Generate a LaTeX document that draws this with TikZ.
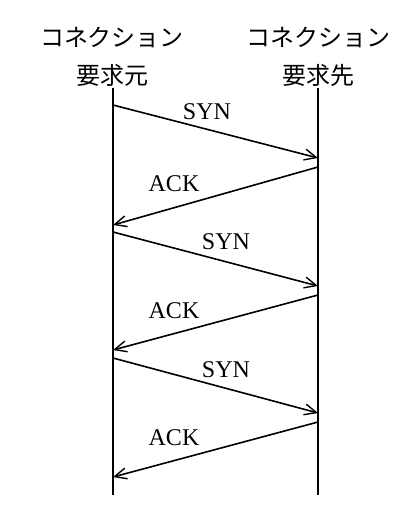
\documentclass[tikz,border=0pt]{standalone}
\usepackage{fontspec}
\setmainfont{Liberation Serif}
\newfontfamily\jafont{Noto Sans CJK JP}
\usetikzlibrary{arrows.meta}

\begin{document}
\begin{tikzpicture}[x=1pt,y=-1pt,
  every node/.style={inner sep=0pt, outer sep=0pt},
  head/.style={font=\jafont\fontsize{24}{28}\selectfont},
  lbl/.style={font=\fontsize{24}{28}\selectfont},
  life/.style={line width=1.6pt},
  msg/.style={line width=1.6pt, -{Straight Barb[length=12pt,width=11pt,line width=1.4pt]}}]
\useasboundingbox (0,0) rectangle (405,512);

\node[head] (srchead) at (112,37) {コネクション};
\node[head] (srcrole) at (112,75) {要求元};
\node[head] (dsthead) at (318,37) {コネクション};
\node[head] (dstrole) at (318,75) {要求先};

\coordinate (srctop) at (113,88);
\coordinate (srcbot) at (113,495);
\coordinate (dsttop) at (318,88);
\coordinate (dstbot) at (318,495);
\draw[life] (srctop) -- (srcbot);
\draw[life] (dsttop) -- (dstbot);

\coordinate (s1) at (113,105);
\coordinate (d1) at (318,158);
\coordinate (d2) at (318,167);
\coordinate (s2) at (113,225);
\coordinate (s3) at (113,232);
\coordinate (d3) at (318,286);
\coordinate (d4) at (318,295);
\coordinate (s4) at (113,350);
\coordinate (s5) at (113,358);
\coordinate (d5) at (318,413);
\coordinate (d6) at (318,422);
\coordinate (s6) at (113,477);

\draw[msg] (s1) -- (d1);
\draw[msg] (d2) -- (s2);
\draw[msg] (s3) -- (d3);
\draw[msg] (d4) -- (s4);
\draw[msg] (s5) -- (d5);
\draw[msg] (d6) -- (s6);

\node[lbl] (syn1) at (207,112) {SYN};
\node[lbl] (ack1) at (174,184) {ACK};
\node[lbl] (syn2) at (226,242) {SYN};
\node[lbl] (ack2) at (174,311) {ACK};
\node[lbl] (syn3) at (226,370) {SYN};
\node[lbl] (ack3) at (174,438) {ACK};
\end{tikzpicture}
\end{document}
